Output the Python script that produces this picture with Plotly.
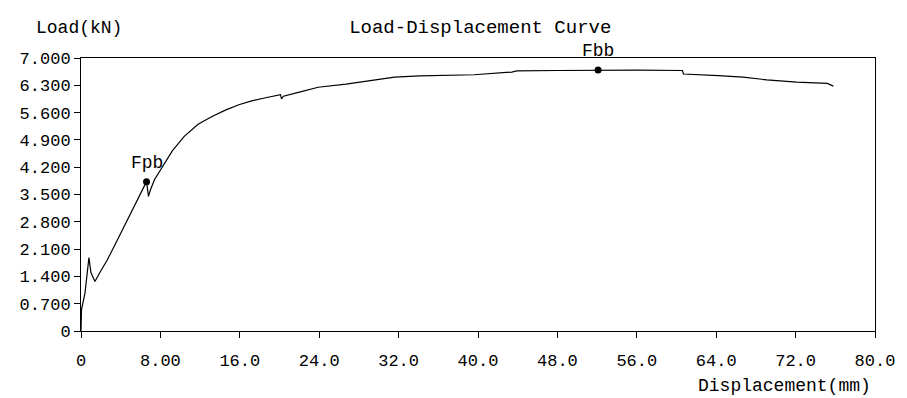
import plotly.graph_objects as go

# Displacement (mm) and Load (kN)
displacement = [0, 0.02, 0.05, 0.4, 0.8, 1.0, 1.4, 1.9, 2.6, 3.5, 4.5, 5.5, 6.4, 6.6, 6.8, 7.0,
                7.4, 8.2, 9.2, 10.4, 11.8, 13.2, 14.6, 15.9, 17.2, 18.6, 20.1, 20.2, 20.4, 21.9,
                23.9, 26.7, 29.7, 31.6, 34.1, 37.0, 39.6, 43.4, 43.9, 48.0, 52.1, 56.0, 60.6,
                60.7, 64.2, 66.7, 69.1, 72.1, 75.2, 75.8]
load = [0, 0.3, 0.55, 0.97, 1.88, 1.5, 1.27, 1.5, 1.8, 2.25, 2.77, 3.28, 3.75, 3.83, 3.45, 3.62,
        3.88, 4.22, 4.62, 4.99, 5.3, 5.5, 5.67, 5.8, 5.9, 5.98, 6.06, 5.95, 6.02, 6.12,
        6.25, 6.33, 6.44, 6.51, 6.54, 6.56, 6.57, 6.64, 6.67, 6.68, 6.69, 6.69, 6.68,
        6.59, 6.55, 6.51, 6.44, 6.38, 6.35, 6.28]

point_names = ["Fpb", "Fbb"]
point_disp = [6.6, 52.1]
point_load = [3.83, 6.69]

x_ticks = [0, 8, 16, 24, 32, 40, 48, 56, 64, 72, 80]
x_ticktext = ["0", "8.00", "16.0", "24.0", "32.0", "40.0", "48.0", "56.0", "64.0", "72.0", "80.0"]
y_ticks = [0, 0.7, 1.4, 2.1, 2.8, 3.5, 4.2, 4.9, 5.6, 6.3, 7.0]
y_ticktext = ["0", "0.700", "1.400", "2.100", "2.800", "3.500", "4.200", "4.900", "5.600", "6.300", "7.000"]

FONT = "Liberation Mono"

fig = go.Figure()
fig.add_trace(go.Scatter(x=displacement, y=load, mode="lines",
                         line=dict(color="black", width=1.2), hoverinfo="skip"))
fig.add_trace(go.Scatter(x=point_disp, y=point_load, mode="markers", cliponaxis=False,
                         marker=dict(color="black", size=7)))

annotations = [
    dict(text=name, x=px, y=py, xref="x", yref="y", yshift=19, showarrow=False,
         xanchor="center", yanchor="middle",
         font=dict(family=FONT, size=18, color="black"))
    for name, px, py in zip(point_names, point_disp, point_load)
]
annotations += [
    dict(text="Load(kN)", xref="paper", yref="paper", x=-0.003, y=1.11,
         xanchor="center", yanchor="middle", showarrow=False,
         font=dict(family=FONT, size=18, color="black")),
    dict(text="Displacement(mm)", xref="paper", yref="paper", x=0.998, y=-0.2,
         xanchor="right", yanchor="middle", showarrow=False,
         font=dict(family=FONT, size=18, color="black")),
]

fig.update_layout(
    width=907, height=398,
    margin=dict(l=81, r=27, t=58, b=67),
    paper_bgcolor="white", plot_bgcolor="white",
    showlegend=False,
    font=dict(family=FONT, size=17, color="black"),
    title=dict(text="Load-Displacement Curve", x=0.5295, xanchor="center",
               y=0.935, yanchor="middle", font=dict(family=FONT, size=19, color="black")),
    xaxis=dict(range=[0, 80], tickvals=x_ticks, ticktext=x_ticktext,
               showgrid=False, zeroline=False, showline=True, linecolor="black",
               linewidth=1, mirror=True, ticks="outside", ticklen=6, tickcolor="black",
               ticklabelstandoff=8, tickfont=dict(family=FONT, size=17)),
    yaxis=dict(range=[0, 7], tickvals=y_ticks, ticktext=y_ticktext,
               showgrid=False, zeroline=False, showline=True, linecolor="black",
               linewidth=1, mirror=True, ticks="outside", ticklen=6, tickcolor="black",
               tickfont=dict(family=FONT, size=17)),
    annotations=annotations,
)

fig.write_html("out.html")
